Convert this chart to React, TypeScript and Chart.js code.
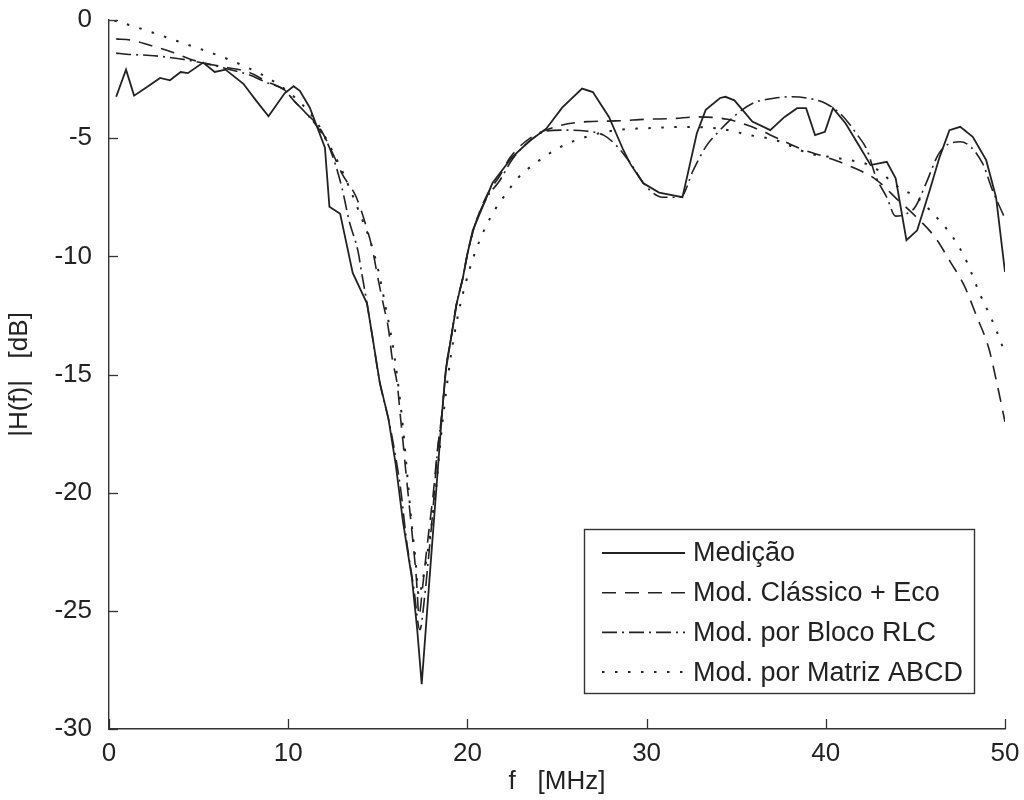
import React, { useEffect, useRef } from "react";
import { Chart, registerables } from "chart.js";

Chart.register(...registerables);

// ---------- data ----------
const SERIES_LABELS = ["Medição", "Mod. Clássico + Eco", "Mod. por Bloco RLC", "Mod. por Matriz ABCD"];

const MED_X = [0.4, 0.95, 1.4, 2.1, 2.85, 3.4, 4.0, 4.4, 5.25, 5.9, 6.5, 7.5, 8.2, 8.9, 9.8, 10.3, 10.65, 11.2, 11.9, 12.05, 12.3, 12.9, 13.6, 14.4, 14.7, 15.1, 15.6, 16.0, 16.4, 16.9, 17.2, 17.45, 17.9, 18.35, 18.6, 18.8, 19.1, 19.4, 19.75, 20.0, 20.3, 21.4, 22.5, 23.5, 24.4, 25.3, 26.4, 27.0, 27.9, 28.7, 29.1, 29.8, 30.7, 32.0, 32.3, 32.8, 33.3, 34.1, 34.4, 34.9, 35.9, 36.9, 37.7, 38.4, 38.9, 39.4, 39.95, 40.4, 41.1, 41.9, 42.5, 43.4, 43.9, 44.5, 45.1, 45.8, 46.35, 46.9, 47.5, 48.2, 48.95, 49.5, 50.0];
const MED_Y = [-3.25, -2.1, -3.2, -2.85, -2.45, -2.55, -2.2, -2.25, -1.8, -2.2, -2.1, -2.7, -3.4, -4.07, -3.1, -2.8, -3.0, -3.7, -5.1, -5.4, -7.9, -8.2, -10.7, -12.0, -13.4, -15.3, -16.9, -18.8, -21.2, -23.6, -25.8, -28.1, -23.5, -19.0, -16.5, -14.8, -13.4, -12.0, -10.9, -9.9, -8.9, -6.9, -5.8, -5.1, -4.6, -3.7, -2.9, -3.05, -4.1, -5.5, -6.1, -6.9, -7.3, -7.5, -6.5, -4.8, -3.8, -3.3, -3.25, -3.4, -4.3, -4.66, -4.1, -3.73, -3.73, -4.87, -4.73, -3.73, -4.37, -5.37, -6.14, -6.0, -6.7, -9.32, -8.9, -7.2, -5.8, -4.66, -4.52, -4.94, -5.93, -7.5, -10.66];

const CLA_X = [0.4, 1.2, 2.2, 3.5, 4.5, 5.5, 6.5, 7.75, 8.8, 9.8, 10.3, 11.0, 11.7, 12.4, 13.0, 13.8, 14.3, 14.7, 15.0, 15.3, 15.6, 15.8, 16.1, 16.25, 16.4, 16.55, 16.75, 16.95, 17.15, 17.3, 17.5, 17.7, 17.9, 18.1, 18.3, 18.6, 18.8, 19.1, 19.4, 19.75, 20.0, 20.5, 21.1, 21.8, 22.4, 23.5, 25.0, 26.7, 28.3, 30.0, 31.5, 32.8, 34.5, 35.8, 37.3, 38.6, 40.0, 41.4, 42.8, 44.0, 45.0, 46.1, 47.0, 47.7, 48.4, 49.1, 49.5, 50.0];
const CLA_Y = [-0.8, -0.85, -1.05, -1.35, -1.65, -1.85, -2.0, -2.2, -2.6, -2.97, -3.4, -3.95, -4.5, -5.5, -6.5, -7.5, -8.6, -9.7, -10.9, -12.0, -13.1, -14.3, -15.5, -16.7, -17.8, -19.0, -20.5, -22.0, -23.6, -25.2, -24.0, -22.6, -21.3, -20.0, -18.4, -16.5, -14.8, -13.4, -12.0, -10.9, -9.9, -8.5, -7.4, -6.6, -5.8, -5.0, -4.5, -4.3, -4.27, -4.2, -4.17, -4.1, -4.2, -4.5, -5.0, -5.45, -5.8, -6.2, -6.75, -7.6, -8.3, -9.2, -10.3, -11.2, -12.5, -13.9, -15.2, -17.0];

const RLC_X = [0.4, 1.0, 2.3, 3.0, 4.0, 5.1, 6.0, 7.0, 7.75, 8.8, 9.8, 10.3, 11.0, 11.7, 12.3, 13.0, 13.4, 13.9, 14.1, 14.4, 14.7, 15.1, 15.6, 16.0, 16.3, 16.6, 17.0, 17.35, 17.6, 17.8, 18.1, 18.3, 18.6, 18.8, 19.1, 19.4, 19.75, 20.0, 20.5, 21.1, 21.8, 22.5, 23.5, 24.4, 25.3, 26.6, 27.6, 28.3, 29.1, 30.0, 30.9, 31.9, 32.6, 33.3, 34.1, 35.0, 35.9, 37.1, 38.1, 39.0, 40.0, 40.9, 41.7, 42.3, 42.8, 43.4, 43.9, 44.5, 45.0, 45.6, 46.35, 47.5, 48.75, 49.3, 50.0];
const RLC_Y = [-1.4, -1.45, -1.5, -1.55, -1.65, -1.8, -1.95, -2.15, -2.3, -2.65, -2.97, -3.4, -3.95, -4.6, -5.4, -7.1, -8.5, -9.8, -10.7, -12.0, -13.4, -15.3, -16.9, -18.5, -20.0, -22.0, -24.0, -25.8, -24.5, -23.0, -20.5, -18.5, -16.5, -14.8, -13.4, -12.0, -10.9, -9.9, -8.5, -7.5, -6.8, -5.9, -5.1, -4.7, -4.66, -4.7, -4.87, -5.3, -6.06, -7.06, -7.5, -7.5, -6.36, -5.37, -4.66, -4.0, -3.53, -3.31, -3.25, -3.31, -3.53, -4.03, -4.8, -5.5, -6.64, -7.5, -8.3, -8.2, -7.9, -6.9, -5.6, -5.15, -6.07, -7.2, -8.4];

const ABCD_X = [0.3, 1.3, 2.7, 4.1, 5.6, 7.0, 8.5, 9.4, 10.1, 11.0, 11.7, 12.3, 12.9, 13.4, 14.0, 14.6, 15.0, 15.4, 15.8, 16.1, 16.4, 16.65, 16.9, 17.1, 17.3, 17.5, 17.7, 17.9, 18.2, 18.5, 18.8, 19.1, 19.5, 20.1, 20.7, 21.4, 22.2, 22.8, 23.9, 25.2, 26.6, 28.3, 30.0, 31.8, 33.9, 35.75, 37.2, 39.1, 40.8, 42.6, 44.1, 45.05, 46.0, 47.1, 47.85, 48.6, 49.1, 49.5, 50.0];
const ABCD_Y = [-0.03, -0.25, -0.6, -0.97, -1.36, -1.77, -2.3, -2.7, -3.1, -3.75, -4.45, -5.3, -6.2, -7.07, -8.2, -9.4, -10.5, -12.0, -13.6, -15.2, -17.2, -19.3, -21.4, -22.8, -24.4, -23.7, -22.9, -21.9, -20.2, -17.8, -15.8, -14.1, -12.4, -10.6, -9.3, -8.2, -7.3, -6.7, -6.0, -5.37, -4.95, -4.66, -4.58, -4.53, -4.58, -4.87, -5.08, -5.65, -5.86, -6.2, -7.1, -7.5, -8.2, -9.2, -10.2, -11.6, -12.4, -13.1, -14.1];

const X_MIN = 0, X_MAX = 50, X_STEP = 10;
const Y_MIN = -30, Y_MAX = 0, Y_STEP = 5;
const X_TITLE = "f   [MHz]";
const Y_TITLE = "|H(f)|   [dB]";

// ---------- style ----------
const INK = "#222222";
const AXIS = "#333333";
const FONT_FAMILY = '"Liberation Sans", Arial, Helvetica, sans-serif';
const DASHES = [[], [14, 9], [15, 5, 2, 5], [2.5, 10.5]];
const WIDTHS = [1.8, 1.6, 1.6, 2];

const toPoints = (xs: number[], ys: number[]) => xs.map((x, i) => ({ x, y: ys[i] }));

const inwardTicks = {
  id: "inwardTicks",
  afterDraw(chart: any) {
    const { ctx, chartArea, scales } = chart;
    ctx.save();
    ctx.strokeStyle = AXIS;
    ctx.lineWidth = 1.3;
    scales.x.ticks.forEach((t: any) => {
      const px = Math.round(scales.x.getPixelForValue(t.value)) + 0.5;
      ctx.beginPath();
      ctx.moveTo(px, chartArea.bottom);
      ctx.lineTo(px, chartArea.bottom - 10);
      ctx.stroke();
    });
    scales.y.ticks.forEach((t: any) => {
      const py = Math.round(scales.y.getPixelForValue(t.value)) + 0.5;
      ctx.beginPath();
      ctx.moveTo(chartArea.left, py);
      ctx.lineTo(chartArea.left + 9, py);
      ctx.stroke();
    });
    ctx.restore();
  },
};

const boxLegend = {
  id: "boxLegend",
  afterDraw(chart: any) {
    const { ctx, chartArea } = chart;
    const bx = chartArea.left + 475;
    const by = chartArea.top + 509;
    const bw = 390;
    const bh = 164;
    ctx.save();
    ctx.fillStyle = "#ffffff";
    ctx.fillRect(bx, by, bw, bh);
    ctx.strokeStyle = AXIS;
    ctx.lineWidth = 1.4;
    ctx.strokeRect(bx + 0.5, by + 0.5, bw, bh);
    ctx.font = "27px " + FONT_FAMILY;
    ctx.textBaseline = "middle";
    ctx.textAlign = "left";
    chart.data.datasets.forEach((ds: any, i: number) => {
      const y = by + 24 + i * 39.7;
      ctx.strokeStyle = INK;
      ctx.lineWidth = WIDTHS[i];
      ctx.setLineDash(DASHES[i]);
      ctx.beginPath();
      ctx.moveTo(bx + 18, y);
      ctx.lineTo(bx + 101, y);
      ctx.stroke();
      ctx.setLineDash([]);
      ctx.fillStyle = INK;
      ctx.fillText(ds.label, bx + 109, y + 1);
    });
    ctx.restore();
  },
};

export default function App() {
  const canvasRef = useRef<HTMLCanvasElement | null>(null);

  useEffect(() => {
    if (!canvasRef.current) return;
    const seriesX = [MED_X, CLA_X, RLC_X, ABCD_X];
    const seriesY = [MED_Y, CLA_Y, RLC_Y, ABCD_Y];
    const datasets = SERIES_LABELS.map((label, i) => ({
      label,
      data: toPoints(seriesX[i], seriesY[i]),
      borderColor: INK,
      backgroundColor: INK,
      borderWidth: WIDTHS[i],
      borderDash: DASHES[i],
      pointRadius: 0,
      fill: false,
      tension: 0,
      cubicInterpolationMode: i === 0 ? "default" : "monotone",
    }));

    const chart = new Chart(canvasRef.current, {
      type: "line",
      data: { datasets } as any,
      options: {
        animation: false,
        responsive: true,
        maintainAspectRatio: false,
        layout: { padding: { left: 0, top: 20, right: 19, bottom: 0 } },
        plugins: { legend: { display: false }, tooltip: { enabled: false } },
        scales: {
          x: {
            type: "linear",
            min: X_MIN,
            max: X_MAX,
            afterFit: (s: any) => {
              s.height = 71;
              s.paddingLeft = 0;
              s.paddingRight = 0;
            },
            grid: { display: false, drawTicks: false },
            border: { display: true, color: AXIS, width: 1.4 },
            ticks: { stepSize: X_STEP, color: INK, padding: 9, font: { size: 26, family: FONT_FAMILY } },
            title: { display: true, text: X_TITLE, color: INK, padding: { top: 0, bottom: 3 }, font: { size: 26, family: FONT_FAMILY } },
          },
          y: {
            type: "linear",
            min: Y_MIN,
            max: Y_MAX,
            afterFit: (s: any) => {
              s.width = 109;
              s.paddingTop = 0;
              s.paddingBottom = 0;
            },
            grid: { display: false, drawTicks: false },
            border: { display: true, color: AXIS, width: 1.4 },
            ticks: { stepSize: Y_STEP, color: INK, padding: 17, font: { size: 26, family: FONT_FAMILY } },
            title: { display: true, text: Y_TITLE, color: INK, padding: { top: 4, bottom: 0 }, font: { size: 26, family: FONT_FAMILY } },
          },
        },
      } as any,
      plugins: [inwardTicks, boxLegend],
    });
    return () => chart.destroy();
  }, []);

  return (
    <div style={{ position: "absolute", left: 0, top: 0, width: 1024, height: 800, background: "#fff" }}>
      <canvas ref={canvasRef} />
    </div>
  );
}
